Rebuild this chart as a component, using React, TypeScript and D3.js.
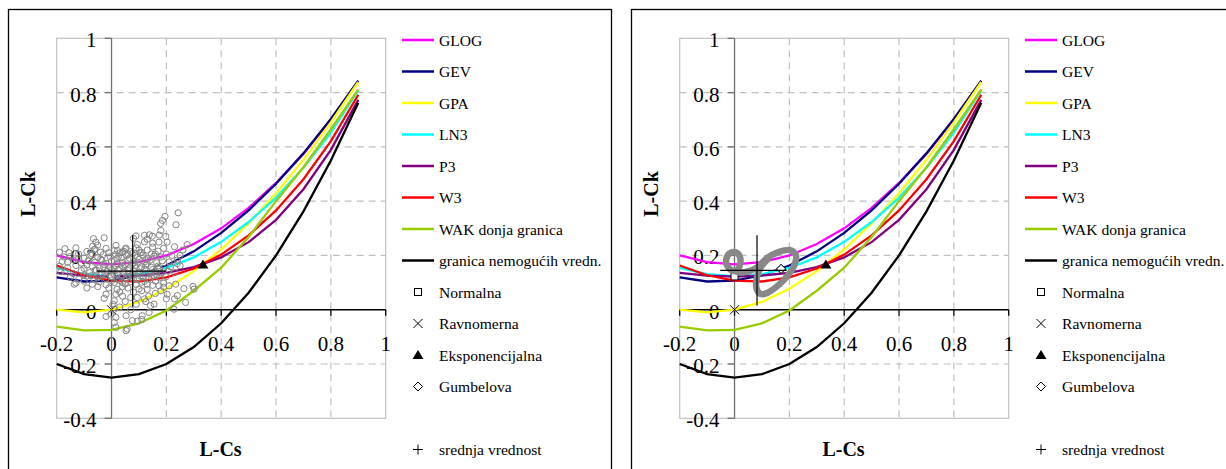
import React from "react";
import * as d3 from "d3";

// theoretical L-moment ratio curves, read at L-Cs steps of 0.1
const lcsGrid = [-0.2, -0.1, 0, 0.1, 0.2, 0.3, 0.4, 0.5, 0.6, 0.7, 0.8, 0.9];
const glogCk = [0.2, 0.175, 0.167, 0.175, 0.2, 0.242, 0.3, 0.375, 0.467, 0.575, 0.7, 0.842];
const gevCk = [0.119, 0.104, 0.107, 0.127, 0.163, 0.215, 0.283, 0.366, 0.464, 0.576, 0.703, 0.844];
const gpaCk = [0, -0.01, 0, 0.029, 0.077, 0.142, 0.222, 0.318, 0.429, 0.553, 0.69, 0.839];
const ln3Ck = [0.154, 0.131, 0.123, 0.131, 0.154, 0.193, 0.25, 0.323, 0.413, 0.523, 0.653, 0.808];
const p3Ck = [0.136, 0.126, 0.122, 0.126, 0.136, 0.157, 0.193, 0.249, 0.331, 0.444, 0.589, 0.773];
const w3Ck = [0.163, 0.127, 0.107, 0.104, 0.119, 0.152, 0.203, 0.274, 0.366, 0.481, 0.621, 0.792];
const wakCk = [-0.062, -0.076, -0.074, -0.05, -0.003, 0.07, 0.155, 0.268, 0.4, 0.525, 0.665, 0.812];
const boundCk = [-0.2, -0.2375, -0.25, -0.2375, -0.2, -0.1375, -0.05, 0.0625, 0.2, 0.3625, 0.55, 0.7625];

const curveNames = ["GLOG", "GEV", "GPA", "LN3", "P3", "W3", "WAK donja granica", "granica nemogućih vredn."];
const curveColors = ["#ff00ff", "#000080", "#ffff00", "#00ffff", "#800080", "#ff0000", "#99cc00", "#000000"];
const curveValues = [glogCk, gevCk, gpaCk, ln3Ck, p3Ck, w3Ck, wakCk, boundCk];

// point distributions [L-Cs, L-Ck]
const normalPt = [0, 0.1226];
const uniformPt = [0, 0];
const exponentialPt = [0.3333, 0.1667];
const gumbelPt = [0.1699, 0.1504];
const markerNames = ["Normalna", "Ravnomerna", "Eksponencijalna", "Gumbelova"];

// mean cross: [L-Cs, L-Ck, L-Cs from, L-Cs to, L-Ck from, L-Ck to]
const leftMean = [0.077, 0.142, -0.055, 0.199, 0.011, 0.274];
const rightMean = [0.082, 0.145, -0.052, 0.19, 0.016, 0.274];

// sample L-moment ratios (left chart)
const cloudPoints = [
  [-0.09, 0.215], [-0.06, 0.222], [-0.04, 0.212], [-0.02, 0.226], [0.01, 0.218], [0.03, 0.209], [0.05, 0.224],
  [0.07, 0.214], [0.09, 0.228], [0.11, 0.211], [0.13, 0.22], [0.15, 0.231], [0.17, 0.216], [0.19, 0.226], [0.16, 0.205],
  [-0.15, 0.196], [-0.12, 0.205], [-0.1, 0.19], [-0.075, 0.2], [-0.05, 0.193], [-0.03, 0.203], [-0.005, 0.195],
  [0.015, 0.204], [0.035, 0.191], [0.055, 0.2], [0.075, 0.207], [0.095, 0.193], [0.115, 0.201], [0.135, 0.19],
  [0.155, 0.198], [0.18, 0.194], [0.2, 0.205], [0.22, 0.2],
  [-0.18, 0.178], [-0.14, 0.184], [-0.11, 0.172], [-0.085, 0.18], [-0.06, 0.175], [-0.04, 0.186], [-0.02, 0.171],
  [0.0, 0.18], [0.02, 0.188], [0.04, 0.174], [0.06, 0.183], [0.08, 0.172], [0.1, 0.185], [0.12, 0.176],
  [0.14, 0.182], [0.165, 0.173], [0.185, 0.18], [0.21, 0.176], [0.24, 0.183],
  [-0.19, 0.16], [-0.16, 0.155], [-0.13, 0.163], [-0.1, 0.152], [-0.07, 0.161], [-0.045, 0.154], [-0.025, 0.166],
  [-0.005, 0.157], [0.015, 0.162], [0.03, 0.151], [0.05, 0.166], [0.065, 0.155], [0.085, 0.162], [0.105, 0.151],
  [0.125, 0.164], [0.145, 0.156], [0.17, 0.161], [0.19, 0.152], [0.215, 0.158], [0.25, 0.162],
  [-0.17, 0.14], [-0.14, 0.133], [-0.11, 0.145], [-0.08, 0.137], [-0.055, 0.146], [-0.035, 0.132], [-0.015, 0.141],
  [0.005, 0.135], [0.025, 0.147], [0.045, 0.138], [0.06, 0.131], [0.08, 0.144], [0.1, 0.136], [0.12, 0.148],
  [0.14, 0.132], [0.16, 0.141], [0.18, 0.135], [0.205, 0.143], [0.23, 0.137],
  [-0.15, 0.12], [-0.12, 0.113], [-0.09, 0.124], [-0.065, 0.116], [-0.04, 0.127], [-0.02, 0.114], [0.0, 0.122],
  [0.02, 0.112], [0.04, 0.125], [0.055, 0.117], [0.075, 0.128], [0.095, 0.114], [0.115, 0.121], [0.135, 0.113],
  [0.155, 0.126], [0.175, 0.118], [0.2, 0.122],
  [-0.13, 0.098], [-0.1, 0.105], [-0.07, 0.094], [-0.045, 0.103], [-0.02, 0.092], [0.01, 0.1], [0.03, 0.108],
  [0.05, 0.095], [0.07, 0.104], [0.09, 0.093], [0.11, 0.101], [0.13, 0.094], [0.16, 0.106], [0.19, 0.098],
  [-0.07, 0.205], [-0.035, 0.182], [-0.01, 0.21], [0.025, 0.196], [0.045, 0.215], [0.065, 0.19], [0.085, 0.2],
  [0.105, 0.21], [0.125, 0.185], [0.145, 0.205], [-0.09, 0.165], [-0.06, 0.145], [-0.03, 0.158], [0.0, 0.148],
  [0.02, 0.17], [0.04, 0.16], [0.06, 0.145], [0.075, 0.168], [0.095, 0.175], [0.11, 0.158], [0.13, 0.17],
  [0.15, 0.148], [0.175, 0.15], [-0.1, 0.128], [-0.075, 0.125], [-0.05, 0.118], [-0.025, 0.128], [0.01, 0.13],
  [0.035, 0.12], [0.065, 0.122], [0.085, 0.13], [0.105, 0.125], [0.125, 0.133], [0.145, 0.12], [0.165, 0.13],
  [-0.16, 0.175], [-0.175, 0.195], [-0.185, 0.14], [-0.12, 0.19], [0.0, 0.107], [0.04, 0.1], [0.08, 0.112],
  [0.12, 0.105], [0.06, 0.205], [0.1, 0.22],
  [-0.066, 0.262], [-0.027, 0.265], [-0.057, 0.249], [-0.069, 0.234], [-0.051, 0.238], [-0.063, 0.222],
  [0.016, 0.237], [0.053, 0.227], [0.022, 0.218], [0.04, 0.212],
  [0.08, 0.263], [0.089, 0.272], [0.12, 0.274], [0.138, 0.276], [0.149, 0.271], [0.174, 0.275], [0.198, 0.27],
  [0.18, 0.292], [0.186, 0.329], [0.195, 0.344], [0.235, 0.313], [0.243, 0.357], [0.179, 0.318],
  [0.13, 0.26], [0.173, 0.249], [0.203, 0.249], [0.276, 0.24], [0.094, 0.24], [0.12, 0.25], [0.15, 0.245],
  [0.23, 0.232], [-0.17, 0.225], [-0.19, 0.212], [-0.13, 0.228], [-0.155, 0.21],
  [-0.136, 0.094], [-0.02, 0.057], [-0.027, 0.042], [0.016, 0.057], [0.03, 0.065], [0.04, 0.05], [0.01, 0.033],
  [0.005, 0.02], [0.01, 0.002], [-0.002, -0.016], [0.016, -0.028], [0.01, -0.047], [0.016, -0.065],
  [0.053, -0.022], [0.053, -0.077], [-0.02, -0.025], [0.076, -0.04], [0.11, -0.036],
  [0.173, 0.088], [0.19, 0.083], [0.21, 0.088], [0.234, 0.094], [0.264, 0.078], [0.297, 0.086], [0.301, 0.076],
  [0.15, 0.09], [0.1, 0.076], [0.094, 0.045], [0.12, 0.04], [0.135, 0.05], [0.203, 0.057], [0.24, 0.052],
  [0.23, 0.04], [0.27, 0.027], [0.155, 0.021], [0.142, 0.015], [0.125, 0.03], [0.228, 0.002], [0.137, -0.01],
  [0.112, -0.022], [0.094, -0.042], [0.057, -0.071],
  [0.06, 0.08], [0.08, 0.065], [0.04, 0.085], [0.02, 0.075], [0.11, 0.07], [0.13, 0.075], [-0.01, 0.08],
  [-0.05, 0.085], [-0.09, 0.08], [0.07, 0.045], [0.05, 0.03], [0.09, 0.02], [0.03, 0.01], [0.07, 0.0],
  [0.16, 0.06], [0.18, 0.07], [0.2, 0.04], [0.25, 0.2], [0.24, 0.17], [0.26, 0.22],
];

// simulated trace (right chart)
const blobPoints = [
  [0.012, 0.14], [-0.015, 0.148], [-0.03, 0.172], [-0.026, 0.198], [-0.008, 0.212], [0.012, 0.207],
  [0.022, 0.185], [0.018, 0.16], [0.01, 0.14], [0.035, 0.138], [0.062, 0.145], [0.09, 0.162],
  [0.118, 0.19], [0.16, 0.212], [0.2, 0.22], [0.224, 0.2], [0.214, 0.155], [0.18, 0.11],
  [0.15, 0.082], [0.12, 0.062], [0.095, 0.058], [0.08, 0.08], [0.082, 0.12], [0.095, 0.155], [0.12, 0.185],
];

const xTicks = [-0.2, 0, 0.2, 0.4, 0.6, 0.8, 1];
const yTicks = [1, 0.8, 0.6, 0.4, 0.2, 0, -0.2, -0.4];

const SHIFT = 623;
const FONT = "'Liberation Serif', 'Times New Roman', serif";

const x = d3.scaleLinear().domain([-0.2, 1]).range([56.7, 385.7]);
const y = d3.scaleLinear().domain([-0.4, 1]).range([418.3, 38.3]);

const fmt = (v: number) => (v === 0 ? "0" : String(v));

const Marker = ({ kind, cx, cy }: { kind: string; cx: number; cy: number }) => {
  if (kind === "square")
    return <rect x={cx - 3.5} y={cy - 3.5} width={7} height={7} fill="white" stroke="#000" strokeWidth={1} />;
  if (kind === "x")
    return <path d={`M${cx - 4.5},${cy - 4.5}L${cx + 4.5},${cy + 4.5}M${cx - 4.5},${cy + 4.5}L${cx + 4.5},${cy - 4.5}`} stroke="#000" strokeWidth={1} />;
  if (kind === "triangle")
    return <path d={`M${cx},${cy - 5}L${cx + 5.5},${cy + 4}L${cx - 5.5},${cy + 4}Z`} fill="#000" />;
  if (kind === "diamond")
    return <path d={`M${cx},${cy - 4.5}L${cx + 4.5},${cy}L${cx},${cy + 4.5}L${cx - 4.5},${cy}Z`} fill="white" stroke="#000" strokeWidth={1} />;
  return <path d={`M${cx - 5},${cy}L${cx + 5},${cy}M${cx},${cy - 5}L${cx},${cy + 5}`} stroke="#000" strokeWidth={1} />;
};

const Panel = ({ dx, mean, cloud, blob }: { dx: number; mean: number[]; cloud?: number[][]; blob?: number[][] }) => {
  const line = d3
    .line<number>()
    .x((_, i) => x(lcsGrid[i]))
    .y((d) => y(d));
  const blobLine = d3
    .line<number[]>()
    .x((d) => x(d[0]))
    .y((d) => y(d[1]))
    .curve(d3.curveCatmullRom);
  const [x0, x1] = x.range();
  const [yb, yt] = y.range();
  const legendY = (i: number) => 40 + i * 31.5;
  const markerKinds = ["square", "x", "triangle", "diamond"];
  const markerPts = [normalPt, uniformPt, exponentialPt, gumbelPt];

  return (
    <g transform={`translate(${dx},0)`}>
      <rect x={8.5} y={9.5} width={603} height={480} fill="white" stroke="#000" strokeWidth={1.3} />
      <rect x={x0} y={yt} width={x1 - x0} height={yb - yt} fill="none" stroke="#c0c0c0" strokeWidth={1.2} />
      {xTicks.filter((t) => t > -0.2 && t < 1 && t !== 0).map((t) => (
        <line key={"gx" + t} x1={x(t)} x2={x(t)} y1={yt} y2={yb} stroke="#c0c0c0" strokeWidth={1.2} strokeDasharray="7,5" />
      ))}
      {yTicks.filter((t) => t > -0.4 && t < 1 && t !== 0).map((t) => (
        <line key={"gy" + t} x1={x0} x2={x1} y1={y(t)} y2={y(t)} stroke="#c0c0c0" strokeWidth={1.2} strokeDasharray="7,5" />
      ))}
      <g fontFamily={FONT} fontSize={21} fill="#000">
        {yTicks.map((t) => (
          <text key={"ly" + t} x={x(0) - 15} y={y(t) + 9} textAnchor="end">{fmt(t)}</text>
        ))}
        {xTicks.map((t) => (
          <text key={"lx" + t} x={x(t)} y={y(0) + 41} textAnchor="middle">{fmt(t)}</text>
        ))}
      </g>
      <line x1={x(0)} x2={x(0)} y1={yt} y2={yb} stroke="#707070" strokeWidth={1.3} />
      {yTicks.map((t) => (
        <line key={"ty" + t} x1={x(0) - 7} x2={x(0)} y1={y(t)} y2={y(t)} stroke="#707070" strokeWidth={1.3} />
      ))}
      <line x1={x0} x2={x1} y1={y(0)} y2={y(0)} stroke="#000" strokeWidth={1.3} />
      {xTicks.map((t) => (
        <line key={"tx" + t} x1={x(t)} x2={x(t)} y1={y(0)} y2={y(0) + 6} stroke="#000" strokeWidth={1.3} />
      ))}
      <text x={35} y={194} transform="rotate(-90 35 194)" textAnchor="middle" fontFamily={FONT} fontSize={20} fontWeight="bold">L-Ck</text>
      <text x={220.5} y={456} textAnchor="middle" fontFamily={FONT} fontSize={20} fontWeight="bold">L-Cs</text>

      {curveValues.map((vals, i) => (
        <path key={curveNames[i]} d={line(vals) || ""} fill="none" stroke={curveColors[i]} strokeWidth={2.3} />
      ))}
      {markerPts.map((p, i) => (
        <Marker key={"m" + i} kind={markerKinds[i]} cx={x(p[0])} cy={y(p[1])} />
      ))}
      {cloud && cloud.map((p, i) => (
        <circle key={"c" + i} cx={x(p[0])} cy={y(p[1])} r={3.1} fill="none" stroke="#858585" strokeWidth={1} />
      ))}
      {blob && (
        <path d={blobLine(blob) || ""} fill="none" stroke="#888888" strokeWidth={6.5} strokeLinecap="round" strokeLinejoin="round" />
      )}
      {blob && <Marker kind="diamond" cx={x(gumbelPt[0])} cy={y(gumbelPt[1])} />}
      <path
        d={`M${x(mean[2])},${y(mean[1])}L${x(mean[3])},${y(mean[1])}M${x(mean[0])},${y(mean[4])}L${x(mean[0])},${y(mean[5])}`}
        stroke="#000"
        strokeWidth={1.2}
      />

      <g fontFamily={FONT} fontSize={15.6} fill="#000">
        {curveNames.map((n, i) => (
          <g key={"lg" + n}>
            <line x1={402} x2={434} y1={legendY(i)} y2={legendY(i)} stroke={curveColors[i]} strokeWidth={2.5} />
            <text x={439} y={legendY(i) + 5.5}>{n}</text>
          </g>
        ))}
        {markerNames.map((n, i) => (
          <g key={"lm" + n}>
            <Marker kind={markerKinds[i]} cx={418} cy={legendY(8 + i)} />
            <text x={439} y={legendY(8 + i) + 5.5}>{n}</text>
          </g>
        ))}
        <Marker kind="plus" cx={418} cy={legendY(13)} />
        <text x={439} y={legendY(13) + 5.5}>srednja vrednost</text>
      </g>
    </g>
  );
}

export default function App() {
  return (
    <svg width={1226} height={469} style={{ position: "absolute", left: 0, top: 0, background: "white" }}>
      <Panel dx={0} mean={leftMean} cloud={cloudPoints} />
      <Panel dx={SHIFT} mean={rightMean} blob={blobPoints} />
    </svg>
  );
}
